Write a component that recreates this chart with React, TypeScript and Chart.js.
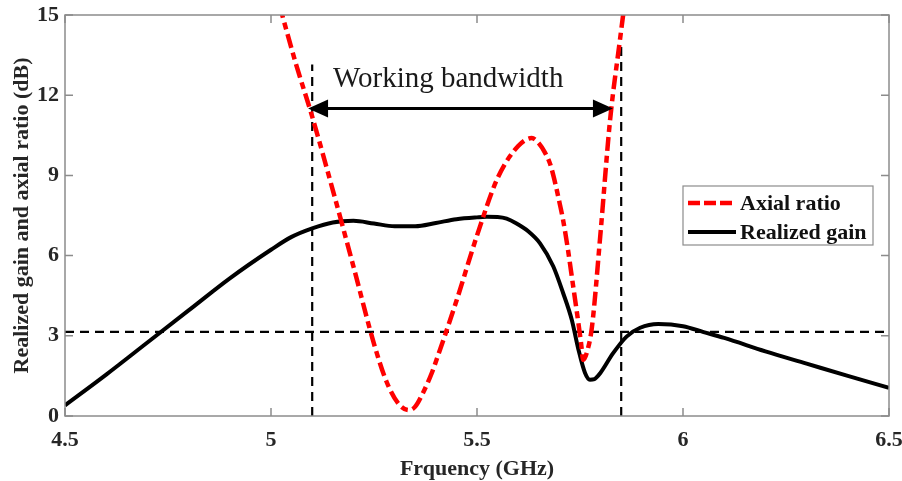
import { useEffect, useRef } from "react";
import { Chart, registerables } from "chart.js";

Chart.register(...registerables);

// Axis ticks
const freqTicks = [4.5, 5, 5.5, 6, 6.5];
const freqTickLabels = ["4.5", "5", "5.5", "6", "6.5"];
const dbTicks = [0, 3, 6, 9, 12, 15];
const dbTickLabels = ["0", "3", "6", "9", "12", "15"];

// Realized gain (dB) versus frequency (GHz)
const gainFreq = [
  4.5, 4.6, 4.7, 4.8, 4.9, 5.0, 5.05, 5.1, 5.15, 5.2, 5.25, 5.3, 5.35, 5.4,
  5.45, 5.5, 5.524, 5.55, 5.572, 5.596, 5.625, 5.653, 5.685, 5.709, 5.73,
  5.746, 5.762, 5.774, 5.785, 5.799, 5.83, 5.863, 5.896, 5.94, 6.0, 6.05, 6.1,
  6.2, 6.3, 6.4, 6.5,
];
const gainDb = [
  0.4, 1.55, 2.75, 3.95, 5.15, 6.22, 6.7, 7.02, 7.24, 7.3, 7.2, 7.1, 7.1, 7.22,
  7.36, 7.43, 7.45, 7.44, 7.38, 7.2, 6.9, 6.46, 5.6, 4.6, 3.6, 2.5, 1.62,
  1.36, 1.38, 1.6, 2.34, 2.97, 3.3, 3.44, 3.36, 3.14, 2.92, 2.42, 1.96, 1.5,
  1.05,
];

// Axial ratio (dB) versus frequency (GHz)
const arFreq = [
  5.02, 5.06, 5.1, 5.15, 5.2, 5.25, 5.28, 5.31, 5.335, 5.35, 5.37, 5.39, 5.41,
  5.45, 5.5, 5.55, 5.6, 5.633, 5.65, 5.665, 5.677, 5.69, 5.7, 5.709, 5.72,
  5.733, 5.745, 5.752, 5.758, 5.768, 5.779, 5.799, 5.823, 5.847, 5.858,
];
const arDb = [
  15.4, 13.2, 11.2, 8.45, 5.6, 2.7, 1.3, 0.45, 0.22, 0.35, 0.9, 1.6, 2.47,
  4.3, 6.75, 8.9, 10.1, 10.4, 10.2, 9.85, 9.45, 8.7, 8.0, 7.33, 6.3, 4.9, 3.6,
  2.8, 2.1, 2.45, 3.33, 6.7, 11.07, 14.07, 15.4,
];

// Reference markers
const bandEdges = [5.1, 5.85];
const bandEdgeTops = [13.15, 14.0];
const thresholdDb = 3.15;
const arrowDb = 11.5;
const arrowEnds = [5.09, 5.83];
const bandLabel = "Working bandwidth";
const bandLabelAt = [5.43, 12.3];

const SERIF = '"Liberation Serif", "Times New Roman", serif';
const FRAME = "#8c8c8c";
const TEXT = "#262626";

const pts = (xs: number[], ys: number[]) => xs.map((x, i) => ({ x, y: ys[i] }));

const overlay = {
  id: "overlay",
  afterDatasetsDraw(chart: any) {
    const { ctx, chartArea: a, scales } = chart;
    const xs = scales.x;
    const ys = scales.y;
    ctx.save();

    // Axes box with inward ticks
    ctx.strokeStyle = FRAME;
    ctx.lineWidth = 1.5;
    ctx.setLineDash([]);
    ctx.strokeRect(a.left, a.top, a.right - a.left, a.bottom - a.top);
    const tl = 8;
    ctx.beginPath();
    for (const v of freqTicks) {
      const px = xs.getPixelForValue(v);
      ctx.moveTo(px, a.bottom);
      ctx.lineTo(px, a.bottom - tl);
      ctx.moveTo(px, a.top);
      ctx.lineTo(px, a.top + tl);
    }
    for (const v of dbTicks) {
      const py = ys.getPixelForValue(v);
      ctx.moveTo(a.left, py);
      ctx.lineTo(a.left + tl, py);
      ctx.moveTo(a.right, py);
      ctx.lineTo(a.right - tl, py);
    }
    ctx.stroke();

    // Double-headed arrow spanning the band
    const ay = ys.getPixelForValue(arrowDb);
    const x1 = xs.getPixelForValue(arrowEnds[0]);
    const x2 = xs.getPixelForValue(arrowEnds[1]);
    const head = 20;
    const half = 9;
    ctx.strokeStyle = "#000";
    ctx.fillStyle = "#000";
    ctx.lineWidth = 3;
    ctx.beginPath();
    ctx.moveTo(x1 + head - 2, ay);
    ctx.lineTo(x2 - head + 2, ay);
    ctx.stroke();
    ctx.beginPath();
    ctx.moveTo(x1, ay);
    ctx.lineTo(x1 + head, ay - half);
    ctx.lineTo(x1 + head, ay + half);
    ctx.closePath();
    ctx.fill();
    ctx.beginPath();
    ctx.moveTo(x2, ay);
    ctx.lineTo(x2 - head, ay - half);
    ctx.lineTo(x2 - head, ay + half);
    ctx.closePath();
    ctx.fill();

    // Band label
    ctx.fillStyle = "#1a1a1a";
    ctx.font = `29px ${SERIF}`;
    ctx.textAlign = "center";
    ctx.textBaseline = "alphabetic";
    ctx.fillText(bandLabel, xs.getPixelForValue(bandLabelAt[0]), ys.getPixelForValue(bandLabelAt[1]));

    // Legend
    const lx = 683, ly = 186, lw = 190, lh = 59;
    ctx.fillStyle = "#fff";
    ctx.fillRect(lx, ly, lw, lh);
    ctx.strokeStyle = FRAME;
    ctx.lineWidth = 1.2;
    ctx.strokeRect(lx, ly, lw, lh);
    const rows = [203, 232];
    chart.data.datasets.slice(0, 2).forEach((ds: any, i: number) => {
      const ry = rows[i];
      ctx.strokeStyle = ds.borderColor;
      ctx.lineWidth = ds.borderWidth;
      ctx.setLineDash(i === 0 ? [12, 4] : []);
      ctx.beginPath();
      ctx.moveTo(688, ry);
      ctx.lineTo(736, ry);
      ctx.stroke();
      ctx.setLineDash([]);
      ctx.fillStyle = "#111";
      ctx.font = `bold 22px ${SERIF}`;
      ctx.textAlign = "left";
      ctx.textBaseline = "middle";
      ctx.fillText(ds.label, 740, ry + 1);
    });

    ctx.restore();
  },
};

export default function App() {
  const ref = useRef<HTMLCanvasElement | null>(null);

  useEffect(() => {
    document.body.style.margin = "0";
    if (!ref.current) return;
    const tickFont = { family: SERIF, size: 22, weight: "bold" as const };

    const refLine = (data: { x: number; y: number }[]) => ({
      label: "",
      data,
      borderColor: "#000",
      borderWidth: 2.2,
      borderDash: [9, 6],
      pointRadius: 0,
      fill: false,
      tension: 0,
    });

    const chart = new Chart(ref.current, {
      type: "line",
      data: {
        datasets: [
          {
            label: "Axial ratio",
            data: pts(arFreq, arDb),
            borderColor: "#ff0000",
            borderWidth: 4.5,
            borderDash: [14, 5, 7, 5],
            pointRadius: 0,
            fill: false,
            cubicInterpolationMode: "monotone",
          },
          {
            label: "Realized gain",
            data: pts(gainFreq, gainDb),
            borderColor: "#000",
            borderWidth: 4,
            pointRadius: 0,
            fill: false,
            cubicInterpolationMode: "monotone",
          },
          refLine([
            { x: bandEdges[0], y: 0 },
            { x: bandEdges[0], y: bandEdgeTops[0] },
          ]),
          refLine([
            { x: bandEdges[1], y: 0 },
            { x: bandEdges[1], y: bandEdgeTops[1] },
          ]),
          refLine([
            { x: freqTicks[0], y: thresholdDb },
            { x: freqTicks[freqTicks.length - 1], y: thresholdDb },
          ]),
        ] as any,
      },
      options: {
        animation: false,
        responsive: false,
        maintainAspectRatio: false,
        layout: { padding: { top: 15, right: 13, left: 0, bottom: 0 } },
        plugins: { legend: { display: false }, tooltip: { enabled: false } },
        scales: {
          x: {
            type: "linear",
            min: 4.5,
            max: 6.5,
            afterBuildTicks: (s: any) => {
              s.ticks = freqTicks.map((v) => ({ value: v }));
            },
            afterFit: (s: any) => {
              s.height = 65;
              s.paddingLeft = 0;
              s.paddingRight = 0;
            },
            grid: { display: false, drawTicks: false },
            border: { display: false },
            ticks: {
              font: tickFont,
              color: TEXT,
              padding: 11,
              maxRotation: 0,
              autoSkip: false,
              callback: (v: any) => freqTickLabels[freqTicks.indexOf(Number(v))] ?? "",
            },
            title: {
              display: true,
              text: "Frquency (GHz)",
              font: tickFont,
              color: TEXT,
              padding: { top: 0, bottom: -2 },
            },
          },
          y: {
            type: "linear",
            min: 0,
            max: 15,
            afterBuildTicks: (s: any) => {
              s.ticks = dbTicks.map((v) => ({ value: v }));
            },
            afterFit: (s: any) => {
              s.width = 65;
              s.paddingTop = 0;
              s.paddingBottom = 0;
            },
            grid: { display: false, drawTicks: false },
            border: { display: false },
            ticks: {
              font: tickFont,
              color: TEXT,
              padding: 6,
              autoSkip: false,
              callback: (v: any) => dbTickLabels[dbTicks.indexOf(Number(v))] ?? "",
            },
            title: {
              display: true,
              text: "Realized gain and axial ratio (dB)",
              font: tickFont,
              color: TEXT,
              padding: { top: 9, bottom: 0 },
            },
          },
        },
      } as any,
      plugins: [overlay],
    });

    return () => chart.destroy();
  }, []);

  return <canvas ref={ref} width={902} height={481} style={{ display: "block" }} />;
}
